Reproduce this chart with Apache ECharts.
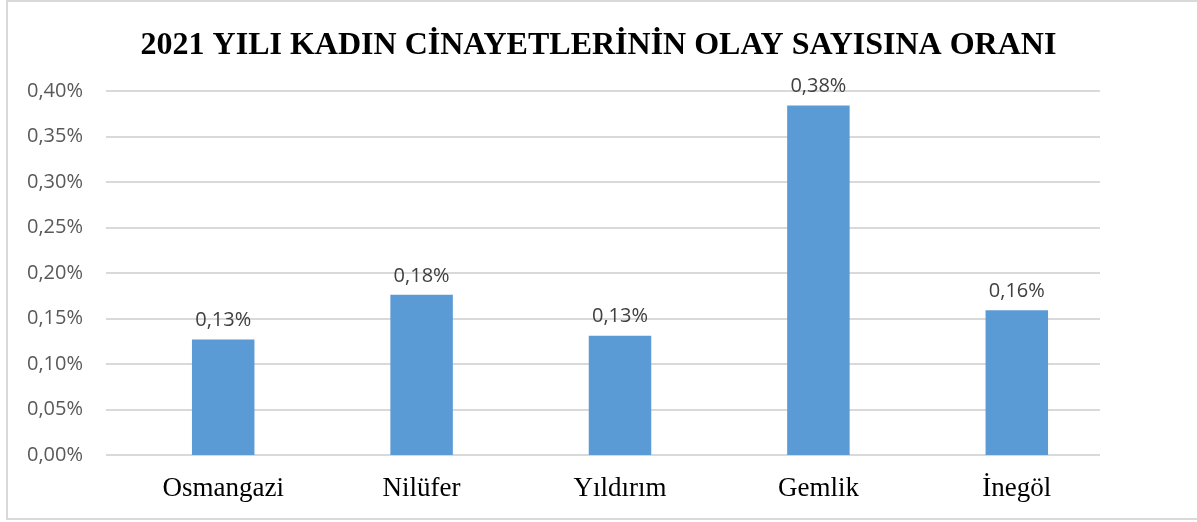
<!DOCTYPE html>
<html>
<head>
<meta charset="utf-8">
<script src="https://cdn.jsdelivr.net/npm/echarts@6/dist/echarts.min.js"></script>
<style>
  html, body { margin: 0; padding: 0; background: #fff; }
  #chart { width: 1197px; height: 522px; }
</style>
</head>
<body>
<div id="chart"></div>
<script>
var chartDom = document.getElementById('chart');
var myChart = echarts.init(chartDom);

// ilçeler ve oranlar (%)
var ilceler = ['Osmangazi', 'Nilüfer', 'Yıldırım', 'Gemlik', 'İnegöl'];
var oranlar = [0.127, 0.176, 0.131, 0.384, 0.159];
var baslik = '2021 YILI KADIN CİNAYETLERİNİN OLAY SAYISINA ORANI';

function yuzde(v, basamak) {
    return v.toFixed(basamak).replace('.', ',') + '%';
}

// grid 0: eksen yazıları ve yatay çizgiler, grid 1: sütunlar
var option = {
    animation: false,
    backgroundColor: '#fff',
    title: {
        text: baslik,
        left: 'center',
        top: 25,
        textStyle: {
            fontFamily: 'Liberation Serif',
            fontWeight: 'bold',
            fontSize: 32,
            color: '#000'
        }
    },
    graphic: [{
        type: 'rect',
        shape: { x: 7, y: 1, width: 1200, height: 518 },
        style: { fill: 'none', stroke: '#d9d9d9', lineWidth: 2 },
        silent: true
    }],
    grid: [
        { left: 106, right: 97, top: 91, bottom: 67 },
        { left: 124, right: 81, top: 91, bottom: 67 }
    ],
    xAxis: [{
        type: 'category',
        gridIndex: 0,
        data: ilceler,
        show: false
    }, {
        type: 'category',
        gridIndex: 1,
        data: ilceler,
        axisLine: { show: false },
        axisTick: { show: false },
        axisLabel: {
            margin: 20,
            fontFamily: 'Liberation Serif',
            fontSize: 27,
            color: '#000'
        }
    }],
    yAxis: [{
        type: 'value',
        gridIndex: 0,
        min: 0,
        max: 0.40,
        interval: 0.05,
        axisLine: { show: false },
        axisTick: { show: false },
        splitLine: { lineStyle: { color: '#d9d9d9', width: 2 } },
        axisLabel: {
            margin: 23,
            fontFamily: 'Open Sans',
            fontSize: 20,
            color: '#595959',
            formatter: function (v) { return yuzde(v, 2); }
        }
    }, {
        type: 'value',
        gridIndex: 1,
        min: 0,
        max: 0.40,
        interval: 0.05,
        show: false
    }],
    series: [{
        type: 'bar',
        xAxisIndex: 1,
        yAxisIndex: 1,
        data: oranlar,
        barWidth: '31.5%',
        itemStyle: { color: '#5b9bd5' },
        label: {
            show: true,
            position: 'top',
            distance: 9,
            fontFamily: 'Open Sans',
            fontSize: 20,
            color: '#404040',
            formatter: function (p) { return yuzde(p.value, 2); }
        }
    }]
};

option && myChart.setOption(option);
</script>
</body>
</html>
